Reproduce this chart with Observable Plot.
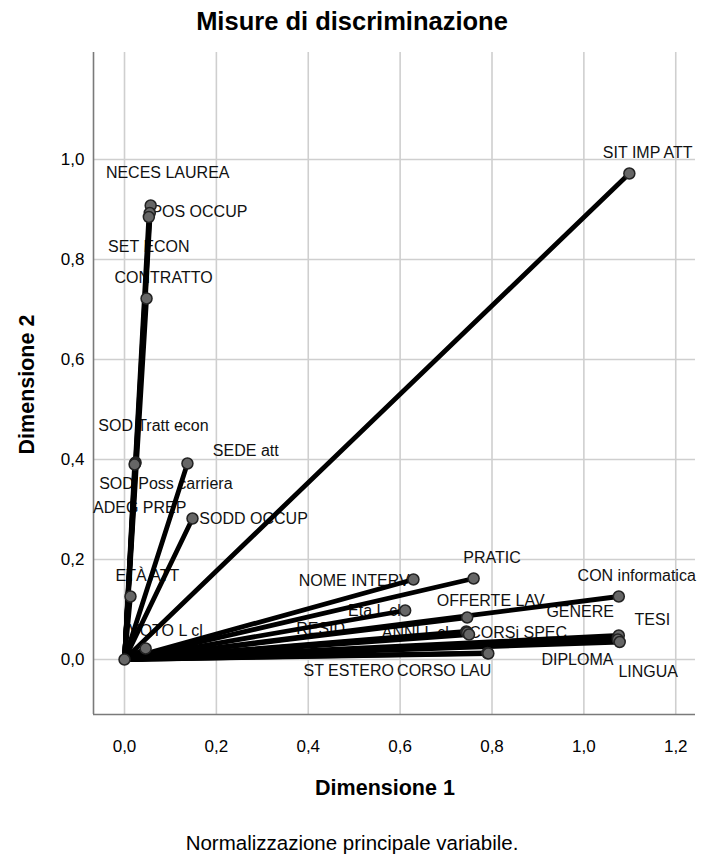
<!DOCTYPE html>
<html>
<head>
<meta charset="utf-8">
<script src="https://cdn.jsdelivr.net/npm/d3@7"></script>
<script src="https://cdn.jsdelivr.net/npm/@observablehq/plot@0.6"></script>
<style>
  html, body { margin: 0; padding: 0; background: #fff; }
  #wrap { position: relative; width: 704px; height: 857px; font-family: "Liberation Sans", Arial, sans-serif; color: #000; }
  #wrap svg { position: absolute; left: 0; top: 0; }
  .t { position: absolute; white-space: nowrap; }
</style>
</head>
<body>
<div id="wrap">
  <div class="t" id="title" style="left:0;width:704px;top:7px;text-align:center;font-weight:bold;font-size:25.5px;">Misure di discriminazione</div>
  <div class="t" id="xlab" style="left:285px;width:200px;top:776px;text-align:center;font-weight:bold;font-size:21.5px;">Dimensione 1</div>
  <div class="t" id="ylab" style="left:-73px;width:200px;top:372px;text-align:center;font-weight:bold;font-size:21.5px;transform:rotate(-90deg);">Dimensione 2</div>
  <div class="t" id="cap" style="left:0;width:704px;top:831px;text-align:center;font-size:20.5px;">Normalizzazione principale variabile.</div>
</div>
<script>
// Variables and their discrimination measures
const variables = ["SIT IMP ATT","NECES LAUREA","POS OCCUP","SET ECON","CONTRATTO","SOD Tratt econ","SEDE att","SOD Poss carriera","ADEG PREP","SODD OCCUP","ETÀ ATT","VOTO L cl","NOME INTERV","PRATIC","Eta L cl","OFFERTE LAV","CON informatica","GENERE","TESI","RESID","ANNI L cl","CORSi SPEC","ST ESTERO","CORSO LAU","DIPLOMA","LINGUA"];
const dim1 = [1.099,0.057,0.055,0.053,0.048,0.024,0.137,0.023,0.022,0.148,0.013,0.046,0.629,0.760,0.611,0.746,1.076,1.074,1.076,0.744,0.746,0.750,0.790,0.792,1.074,1.078];
const dim2 = [0.972,0.908,0.893,0.885,0.722,0.394,0.392,0.392,0.390,0.282,0.126,0.022,0.160,0.162,0.098,0.084,0.126,0.043,0.048,0.056,0.054,0.050,0.013,0.012,0.040,0.035];
// label anchor positions (data units)
const labelX = [1.139,0.094,0.163,0.053,0.085,0.063,0.264,0.090,0.033,0.281,0.050,0.090,0.500,0.800,0.544,0.797,1.115,0.992,1.149,0.427,0.633,0.857,0.488,0.696,0.986,1.140];
const labelY = [1.014,0.974,0.896,0.826,0.764,0.468,0.418,0.352,0.304,0.282,0.168,0.058,0.158,0.204,0.098,0.118,0.168,0.096,0.080,0.062,0.054,0.054,-0.022,-0.022,0.000,-0.024];
const originX = [0];
const originY = [0];
const xTicks = [0,0.2,0.4,0.6,0.8,1.0,1.2];
const yTicks = [0,0.2,0.4,0.6,0.8,1.0];
const xDomain = [-0.0675, 1.243];
const yDomain = [-0.11, 1.214];

const data = variables.map((v,i) => ({v, x: dim1[i], y: dim2[i], lx: labelX[i], ly: labelY[i]}));
const fmt = d => d3.format(".1f")(d).replace(".", ",");

const chart = Plot.plot({
  width: 704,
  height: 800,
  marginTop: 52,
  marginLeft: 93,
  marginRight: 9,
  marginBottom: 86,
  style: {fontFamily: "'Liberation Sans', Arial, sans-serif", fontSize: "17px", background: "transparent", color: "#000"},
  x: {domain: xDomain, ticks: xTicks, tickFormat: fmt, tickSize: 0, tickPadding: 25, label: null},
  y: {domain: yDomain, ticks: yTicks, tickFormat: fmt, tickSize: 0, tickPadding: 9, label: null},
  marks: [
    Plot.ruleX(xTicks, {stroke: "#cfcfcf", strokeWidth: 1.6}),
    Plot.ruleY(yTicks, {stroke: "#cfcfcf", strokeWidth: 1.6}),
    Plot.ruleX([xDomain[0]], {stroke: "#7a7a7a", strokeWidth: 1.6}),
    Plot.ruleY([yDomain[0]], {stroke: "#7a7a7a", strokeWidth: 1.6}),
    Plot.text(data, {x: "lx", y: "ly", text: "v", fontSize: 16, fill: "#111", textAnchor: "middle"}),
    Plot.link(data, {x1: () => originX[0], y1: () => originY[0], x2: "x", y2: "y", stroke: "#000", strokeWidth: 4.8, strokeLinecap: "round"}),
    Plot.dot(data, {x: "x", y: "y", r: 5.5, fill: "#666", stroke: "#222", strokeWidth: 1.5}),
    Plot.dot(originX.map((d,i) => ({x: d, y: originY[i]})), {x: "x", y: "y", r: 5.5, fill: "#666", stroke: "#222", strokeWidth: 1.5})
  ]
});
document.getElementById("wrap").prepend(chart);
</script>
</body>
</html>
